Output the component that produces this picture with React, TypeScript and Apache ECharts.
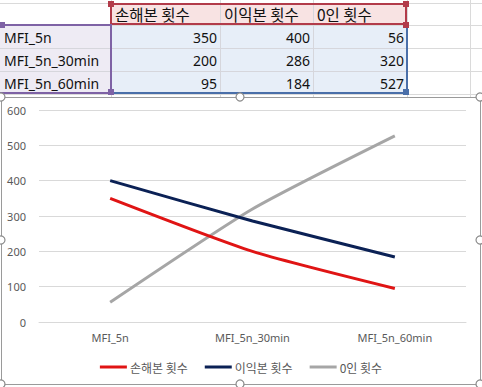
import React, { useEffect, useRef } from "react";
import * as echarts from "echarts";

const categories = ["MFI_5n", "MFI_5n_30min", "MFI_5n_60min"];
const seriesNames = ["손해본 횟수", "이익본 횟수", "0인 횟수"];
const lossCounts = [350, 200, 95];
const profitCounts = [400, 286, 184];
const zeroCounts = [56, 320, 527];
const seriesColors = ["#E01414", "#0B2155", "#A6A6A6"];
const yMin = 0;
const yMax = 600;
const yStep = 100;

const colLefts = [0, 111, 220, 313, 407];
const rowTops = [3, 25, 48, 71, 94];
const valueRows = [lossCounts, profitCounts, zeroCounts];

const W = 482;
const H = 387;

function Table() {
  const els: React.ReactNode[] = [];
  [111, 220, 313, 407, 470].forEach((x, i) =>
    els.push(
      <div key={"v" + i} style={{ position: "absolute", left: x, top: 0, width: 1, height: 97, background: "#DADADA" }} />
    )
  );
  [3, 25, 48, 71, 94].forEach((y, i) =>
    els.push(
      <div key={"h" + i} style={{ position: "absolute", left: 0, top: y, width: W, height: 1, background: "#DADADA" }} />
    )
  );
  els.push(<div key="fh" style={{ position: "absolute", left: 112, top: 4, width: 295, height: 21, background: "#F8E3E3" }} />);
  els.push(<div key="fa" style={{ position: "absolute", left: 0, top: 26, width: 111, height: 68, background: "#EEEBF4" }} />);
  els.push(<div key="fv" style={{ position: "absolute", left: 112, top: 26, width: 295, height: 68, background: "#E7EEF8" }} />);
  [220, 313].forEach((x, i) =>
    els.push(<div key={"iv" + i} style={{ position: "absolute", left: x, top: 4, width: 1, height: 90, background: "#D6D6DC" }} />)
  );
  [48, 71].forEach((y, i) =>
    els.push(<div key={"ih" + i} style={{ position: "absolute", left: 0, top: y, width: 407, height: 1, background: "#D6D6DC" }} />)
  );
  seriesNames.forEach((n, i) =>
    els.push(
      <div
        key={"ht" + i}
        style={{
          position: "absolute",
          left: colLefts[i + 1] + 4,
          top: 3,
          height: 23,
          lineHeight: "23px",
          fontSize: 15.5,
          color: "#111",
          whiteSpace: "nowrap",
          fontFamily: "'Noto Sans CJK KR', 'Noto Sans', sans-serif",
        }}
      >
        {n}
      </div>
    )
  );
  categories.forEach((c, r) => {
    els.push(
      <div
        key={"ct" + r}
        style={{
          position: "absolute",
          left: 4,
          top: rowTops[r + 1],
          height: 23,
          lineHeight: "25px",
          fontSize: 14,
          color: "#111",
          whiteSpace: "nowrap",
          fontFamily: "'Noto Sans', sans-serif",
        }}
      >
        {c}
      </div>
    );
    valueRows.forEach((vals, s) =>
      els.push(
        <div
          key={"vt" + r + "_" + s}
          style={{
            position: "absolute",
            left: colLefts[s + 1],
            width: colLefts[s + 2] - colLefts[s + 1] - 3,
            textAlign: "right",
            top: rowTops[r + 1],
            height: 23,
            lineHeight: "25px",
            fontSize: 14,
            color: "#111",
            fontFamily: "'Noto Sans', sans-serif",
          }}
        >
          {vals[r]}
        </div>
      )
    );
  });
  const red = "#B23B4A";
  const purple = "#7E62A5";
  const blue = "#4A6FA9";
  els.push(<div key="br" style={{ position: "absolute", left: 110, top: 3, width: 297, height: 22, border: `2px solid ${red}`, boxSizing: "border-box" as any }} />);
  els.push(<div key="bp" style={{ position: "absolute", left: -2, top: 24, width: 114, height: 70, border: `2px solid ${purple}`, boxSizing: "border-box" as any }} />);
  els.push(<div key="bb" style={{ position: "absolute", left: 112, top: 24, width: 296, height: 70, borderRight: `2px solid ${blue}`, borderBottom: `2px solid ${blue}`, boxSizing: "border-box" as any }} />);
  const sq = (k: string, x: number, y: number, col: string) =>
    els.push(<div key={k} style={{ position: "absolute", left: x - 3, top: y - 3, width: 6, height: 6, background: col }} />);
  sq("s1", 111, 4, red);
  sq("s2", 406, 4, red);
  sq("s3", 406, 25, red);
  sq("s4", 111, 92, purple);
  sq("s5", 2, 25, purple);
  sq("s6", 406, 92, blue);
  return <>{els}</>;
}

export default function App() {
  const ref = useRef<HTMLDivElement>(null);
  useEffect(() => {
    if (!ref.current) return;
    const chart = echarts.init(ref.current, undefined, { renderer: "svg" });
    const frameColor = "#9A9A9A";
    const handles = [
      [1, 97],
      [240, 97],
      [480, 97],
      [1, 240],
      [480, 240],
      [1, 384],
      [240, 384],
      [480, 384],
    ];
    const dataSets = [lossCounts, profitCounts, zeroCounts];
    chart.setOption({
      animation: false,
      textStyle: { fontFamily: "'Noto Sans', 'Noto Sans CJK KR', sans-serif" },
      grid: { left: 39, right: 16, top: 110, bottom: 65 },
      xAxis: {
        type: "category",
        data: categories,
        boundaryGap: true,
        axisLine: { show: true, lineStyle: { color: "#D9D9D9", width: 1 } },
        axisTick: { show: false },
        axisLabel: { color: "#595959", fontSize: 11, margin: 10 },
      },
      yAxis: {
        type: "value",
        min: yMin,
        max: yMax,
        interval: yStep,
        axisLine: { show: false },
        axisTick: { show: false },
        axisLabel: { color: "#595959", fontSize: 11, margin: 13 },
        splitLine: { lineStyle: { color: "#D9D9D9", width: 1 } },
      },
      legend: {
        data: seriesNames,
        left: "center",
        top: 356,
        icon: "rect",
        itemWidth: 27,
        itemHeight: 3,
        itemGap: 17,
        textStyle: { color: "#595959", fontSize: 12, fontFamily: "'Noto Sans CJK KR', sans-serif", padding: [0, 0, 0, -2] },
      },
      series: seriesNames.map((n, i) => ({
        name: n,
        type: "line",
        data: dataSets[i],
        smooth: 0.2,
        symbol: "none",
        lineStyle: { color: seriesColors[i], width: 3 },
        itemStyle: { color: seriesColors[i] },
        z: 3 + (2 - i),
      })),
      graphic: [
        {
          type: "rect",
          z: 100,
          shape: { x: 1.5, y: 97.5, width: 479, height: 287 },
          style: { fill: "none", stroke: frameColor, lineWidth: 1 },
          silent: true,
        },
        ...handles.map(([x, y]) => ({
          type: "circle",
          z: 101,
          shape: { cx: x, cy: y, r: 4 },
          style: { fill: "#FFFFFF", stroke: "#8C8C8C", lineWidth: 1.2 },
          silent: true,
        })),
      ],
    });
    return () => chart.dispose();
  }, []);
  return (
    <div style={{ position: "fixed", left: 0, top: 0, width: W, height: H, overflow: "hidden", background: "#FFFFFF" }}>
      <Table />
      <div style={{ position: "absolute", left: 2, top: 98, width: 478, height: 286, background: "#FFFFFF" }} />
      <div ref={ref} style={{ position: "absolute", left: 0, top: 0, width: W, height: H }} />
    </div>
  );
}
